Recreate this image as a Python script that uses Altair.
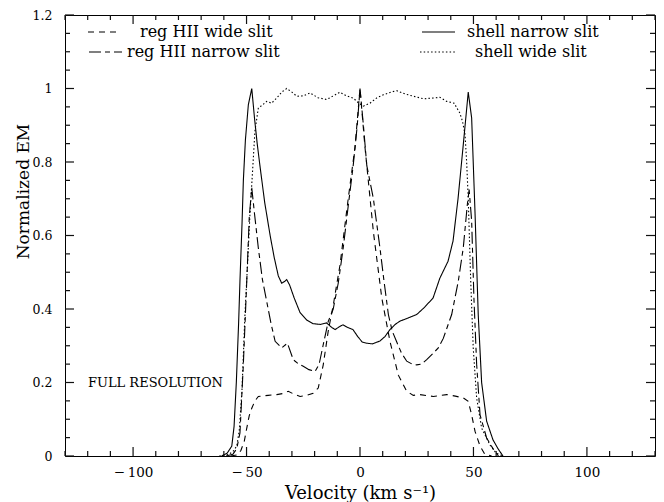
import altair as alt
import pandas as pd

# ---------------- data ----------------
SERIES = ["reg HII wide slit", "reg HII narrow slit", "shell narrow slit", "shell wide slit"]

wide_v = [-57, -54, -52.5, -51, -49.9, -48.8, -47.7, -46.3, -44.8, -40.5,
          -36.7, -34, -31.6, -29, -26.4, -23.5, -20.6, -18.4, -16.2, -14,
          -11.8, -8.8, -5.2, -2.2, 0, 2.2, 5.9, 9.6, 13.2, 16.9,
          20.6, 23.5, 26.4, 32.3, 38.2, 42, 45.5, 47.7, 49.2, 50.7,
          52.9, 55, 58]
wide_em = [0, 0.003, 0.015, 0.04, 0.076, 0.11, 0.13, 0.15, 0.162, 0.165,
           0.167, 0.17, 0.176, 0.168, 0.162, 0.165, 0.171, 0.185, 0.248, 0.34,
           0.41, 0.52, 0.70, 0.84, 1.0, 0.84, 0.61, 0.43, 0.312, 0.22,
           0.176, 0.165, 0.167, 0.162, 0.167, 0.163, 0.158, 0.149, 0.112, 0.067,
           0.027, 0.005, 0]

narrow_v = [-59, -56, -54.3, -52.9, -51.4, -49.9, -48.8, -47.7, -46.5, -44.8,
            -43, -41.1, -39.2, -37.4, -34.5, -32, -29.4, -27, -25, -22.5,
            -19.8, -18, -16.2, -14, -11.8, -9.6, -7.4, -5.2, -3, -1.2,
            0, 1.5, 3, 5.9, 8.8, 10.5, 12.5, 14.2, 16.2, 18.3,
            20.6, 23, 25, 27, 29.4, 32.3, 34.5, 36.7, 40.4, 43.3,
            45.5, 47.3, 48.1, 49.2, 50.2, 51.4, 52.9, 55.8, 58.6, 61]
narrow_em = [0, 0.005, 0.02, 0.063, 0.25, 0.476, 0.65, 0.73, 0.66, 0.566,
             0.48, 0.42, 0.36, 0.312, 0.294, 0.307, 0.262, 0.25, 0.244, 0.235,
             0.23, 0.25, 0.303, 0.366, 0.40, 0.47, 0.566, 0.68, 0.79, 0.9,
             1.0, 0.9, 0.79, 0.70, 0.566, 0.48, 0.385, 0.34, 0.31, 0.28,
             0.258, 0.25, 0.248, 0.25, 0.262, 0.28, 0.294, 0.32, 0.385, 0.475,
             0.566, 0.684, 0.725, 0.64, 0.43, 0.25, 0.112, 0.049, 0.02, 0]

shell_n_v = [-61, -58.5, -56.5, -55.5, -54.5, -53.5, -52.9, -52, -51.4, -50.5,
             -49.2, -47.7, -46.5, -45.3, -44.1, -42, -39.6, -37.8, -36, -34.5,
             -33.2, -32.3, -31, -29, -26.4, -23.5, -20.7, -17.5, -14.7, -12.5,
             -11, -9, -7.5, -5.5, -3.1, -1, 1, 3, 5.5, 8.8,
             11, 13.2, 15.5, 17.6, 21, 25, 28.5, 32.2, 35.2, 38.8,
             41, 43.2, 45.4, 47.7, 49.2, 50.7, 52.1, 53.6, 55.8, 58.6,
             60.8, 63]
shell_n_em = [0, 0.008, 0.027, 0.08, 0.2, 0.36, 0.476, 0.63, 0.75, 0.86,
              0.956, 1.0, 0.92, 0.85, 0.79, 0.69, 0.60, 0.54, 0.49, 0.47,
              0.475, 0.48, 0.465, 0.43, 0.39, 0.37, 0.36, 0.358, 0.362, 0.35,
              0.344, 0.352, 0.357, 0.35, 0.344, 0.325, 0.31, 0.307, 0.305, 0.313,
              0.325, 0.344, 0.358, 0.367, 0.375, 0.385, 0.405, 0.43, 0.484, 0.53,
              0.585, 0.70, 0.84, 0.99, 0.92, 0.66, 0.385, 0.2, 0.095, 0.044,
              0.02, 0]

shell_w_v = [-62, -58, -56, -54.3, -53.2, -52, -50.7, -49.5, -48.5, -47.3,
             -46.3, -44.8, -43, -41.1, -39, -36.7, -34.5, -32.3, -30, -27.9,
             -25, -22, -18.5, -14.7, -11.7, -8.8, -6, -3, -0.5, 1.5,
             4.4, 7.5, 10.3, 13.5, 16.2, 20, 23.5, 28, 32.3, 35.2,
             38.2, 41.5, 44, 45.2, 46.3, 47, 47.7, 48.8, 49.9, 51.4,
             53.6, 57.3, 60, 63]
shell_w_em = [0, 0.004, 0.012, 0.027, 0.07, 0.18, 0.385, 0.53, 0.657, 0.78,
              0.884, 0.947, 0.955, 0.965, 0.96, 0.974, 0.99, 1.0, 0.99, 0.979,
              0.98, 0.988, 0.975, 0.97, 0.98, 0.99, 0.98, 0.974, 0.96, 0.952,
              0.96, 0.975, 0.983, 0.99, 0.994, 0.985, 0.979, 0.972, 0.974, 0.976,
              0.965, 0.96, 0.933, 0.91, 0.874, 0.8, 0.70, 0.475, 0.294, 0.158,
              0.076, 0.03, 0.008, 0]

x_major = [-100, -50, 0, 50, 100]
x_minor = [-130, -120, -110, -90, -80, -70, -60, -40, -30, -20, -10,
           10, 20, 30, 40, 60, 70, 80, 90, 110, 120, 130]
y_major = [0, 0.2, 0.4, 0.6, 0.8, 1.0, 1.2]
y_minor = [0.05, 0.1, 0.15, 0.25, 0.3, 0.35, 0.45, 0.5, 0.55, 0.65, 0.7, 0.75,
           0.85, 0.9, 0.95, 1.05, 1.1, 1.15]

# ---------------- layout / style ----------------
W, H = 590, 441
XD = [-130, 130]
YD = [0, 1.2]
FONT = "DejaVu Serif"
DASHES = [[6, 5], [12, 4, 5, 4], [1, 0], [1.5, 2.2]]
MAJ, MIN = 9, 5  # tick lengths in px

rows = []
for name, vs, ems in [(SERIES[0], wide_v, wide_em), (SERIES[1], narrow_v, narrow_em),
                      (SERIES[2], shell_n_v, shell_n_em), (SERIES[3], shell_w_v, shell_w_em)]:
    assert len(vs) == len(ems)
    for v, e in zip(vs, ems):
        rows.append({"series": name, "v": v, "em": e})
df = pd.DataFrame(rows)

xs = alt.Scale(domain=XD, nice=False, zero=False)
ys = alt.Scale(domain=YD, nice=False, zero=False)
dash_scale = alt.Scale(domain=SERIES, range=DASHES)

x_axis = alt.Axis(
    orient="bottom", values=x_major, ticks=False, domain=False, grid=False,
    labelPadding=9, labelFontSize=13.5, labelFlush=False, labelOverlap=False,
    labelExpr="datum.value < 0 ? '\u2212\u2009' + format(-datum.value, 'd') : format(datum.value, 'd')",
    title="Velocity (km s\u207b\u00b9)", titleFontSize=18, titleY=37, titleBaseline="middle")
y_axis = alt.Axis(
    orient="left", values=y_major, format="~g", ticks=False, domain=False, grid=False,
    labelPadding=13, labelFontSize=12.5, labelFlush=False, labelOverlap=False,
    title="Normalized EM", titleFontSize=17, titleX=-42, titleY=176, titleAngle=270,
    titleAlign="center", titleBaseline="middle")

lines = alt.Chart(df).mark_line(color="black", strokeWidth=1.1).encode(
    x=alt.X("v:Q", scale=xs, axis=x_axis),
    y=alt.Y("em:Q", scale=ys, axis=y_axis),
    strokeDash=alt.StrokeDash("series:N", scale=dash_scale, legend=None),
    detail="series:N",
)

# inward tick marks on all four sides
vt = pd.DataFrame({"tv": x_major + x_minor,
                   "len": [MAJ] * len(x_major) + [MIN] * len(x_minor)})
ht = pd.DataFrame({"te": y_major + y_minor,
                   "len": [MAJ] * len(y_major) + [MIN] * len(y_minor)})

tick_layers = []
for y0, sign in (("height", "-"), ("0", "+")):  # bottom, top
    tick_layers.append(
        alt.Chart(vt).transform_calculate(
            ya=y0, yb=f"{y0} {sign} datum.len"
        ).mark_rule(color="#111111", strokeWidth=1.2).encode(
            x=alt.X("tv:Q", scale=xs, axis=x_axis),
            y=alt.Y("ya:Q", scale=None),
            y2=alt.Y2("yb:Q"),
        )
    )
for x0, sign in (("0", "+"), ("width", "-")):  # left, right
    tick_layers.append(
        alt.Chart(ht).transform_calculate(
            xa=x0, xb=f"{x0} {sign} datum.len"
        ).mark_rule(color="#111111", strokeWidth=1.2).encode(
            y=alt.Y("te:Q", scale=ys, axis=y_axis),
            x=alt.X("xa:Q", scale=None),
            x2=alt.X2("xb:Q"),
        )
    )

# manual legend
LEG = [  # series, sample x0, x1, row y, label x
    (SERIES[0], 23, 53, 17, 75),
    (SERIES[1], 24, 57, 37, 62),
    (SERIES[2], 357, 390, 17, 402),
    (SERIES[3], 355, 390, 37, 410),
]
legend_layers = []
for name, x0, x1, yy, tx in LEG:
    one = pd.DataFrame({"series": [name], "label": [name]})
    legend_layers.append(
        alt.Chart(one).mark_rule(color="black", strokeWidth=1.1).encode(
            x=alt.value(x0), x2=alt.value(x1), y=alt.value(yy),
            strokeDash=alt.StrokeDash("series:N", scale=dash_scale, legend=None))
    )
    legend_layers.append(
        alt.Chart(one).mark_text(font=FONT, fontSize=16, align="left", baseline="middle",
                                 color="black").encode(
            x=alt.value(tx), y=alt.value(yy), text="label:N")
    )

note = alt.Chart(pd.DataFrame({"t": ["FULL RESOLUTION"]})).mark_text(
    font=FONT, fontSize=13, align="left", baseline="middle", color="black"
).encode(x=alt.value(23), y=alt.value(368), text="t:N")

chart = alt.layer(lines, *tick_layers, *legend_layers, note).properties(
    width=W, height=H,
    autosize=alt.AutoSizeParams(type="none"),
    padding={"left": 65, "top": 15, "right": 9, "bottom": 46},
    background="white",
).configure_view(stroke="black", strokeWidth=1).configure_axis(
    labelFont=FONT, titleFont=FONT, labelColor="black", titleColor="black",
    titleFontWeight="normal",
)

chart.save("out.html", embed_options={"renderer": "svg", "actions": False})
